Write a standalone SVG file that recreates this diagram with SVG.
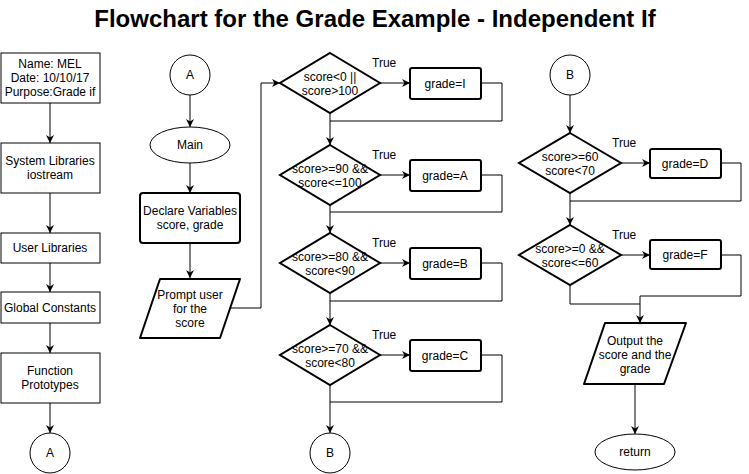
<svg xmlns="http://www.w3.org/2000/svg" width="749" height="474" viewBox="0 0 749 474">
<style>
text{font-family:"Liberation Sans",Arial,sans-serif;font-size:12px;fill:#000;text-anchor:middle}
.title{font-size:24px;font-weight:bold}
.lbl{text-anchor:start}
.n{fill:#fff;stroke:#000;stroke-width:1}
.t{fill:#fff;stroke:#000;stroke-width:2}
.c{fill:none;stroke:#000;stroke-width:1}
</style>
<defs>
<marker id="ah" viewBox="0 0 10 10" refX="10" refY="5" markerWidth="8" markerHeight="8" markerUnits="userSpaceOnUse" orient="auto">
<path d="M0,0 L10,5 L0,10 L3,5 Z" fill="#000"/>
</marker>
</defs>
<rect width="749" height="474" fill="#fff"/>
<text class="title" x="375" y="27">Flowchart for the Grade Example - Independent If</text>

<g id="connectors">
<path class="c" d="M50,103 V143" marker-end="url(#ah)"/>
<path class="c" d="M50,193 V233" marker-end="url(#ah)"/>
<path class="c" d="M50,263 V292" marker-end="url(#ah)"/>
<path class="c" d="M50,323 V353" marker-end="url(#ah)"/>
<path class="c" d="M50,403 V433" marker-end="url(#ah)"/>
<path class="c" d="M190,95 V127" marker-end="url(#ah)"/>
<path class="c" d="M190,163 V193" marker-end="url(#ah)"/>
<path class="c" d="M190,243 V278" marker-end="url(#ah)"/>
<path class="c" d="M230,308 H261 V83 H280" marker-end="url(#ah)"/>
<path class="c" d="M380,83 H410" marker-end="url(#ah)"/>
<path class="c" d="M481,83 H502 V121 H330"/>
<path class="c" d="M330,113 V145" marker-end="url(#ah)"/>
<path class="c" d="M380,175 H410" marker-end="url(#ah)"/>
<path class="c" d="M481,175 H502 V212 H330"/>
<path class="c" d="M330,205 V233" marker-end="url(#ah)"/>
<path class="c" d="M380,263 H410" marker-end="url(#ah)"/>
<path class="c" d="M481,263 H502 V301 H330"/>
<path class="c" d="M330,293 V325" marker-end="url(#ah)"/>
<path class="c" d="M380,355 H410" marker-end="url(#ah)"/>
<path class="c" d="M481,355 H502 V402 H330"/>
<path class="c" d="M330,385 V433" marker-end="url(#ah)"/>
<path class="c" d="M570,95 V133" marker-end="url(#ah)"/>
<path class="c" d="M621,163 H650" marker-end="url(#ah)"/>
<path class="c" d="M721,163 H741 V201 H570"/>
<path class="c" d="M570,193 V225" marker-end="url(#ah)"/>
<path class="c" d="M621,255 H650" marker-end="url(#ah)"/>
<path class="c" d="M721,255 H741 V296 H640 V323" marker-end="url(#ah)"/>
<path class="c" d="M570,285 V304 H640"/>
<path class="c" d="M635,384 V434" marker-end="url(#ah)"/>
</g>

<g id="n-header"><rect class="n" x="1" y="53" width="99" height="50"/>
<text x="50" y="68">Name: MEL</text><text x="50" y="82">Date: 10/10/17</text><text x="50" y="96">Purpose:Grade if</text></g>
<g id="n-syslib"><rect class="n" x="1" y="143" width="99" height="50"/>
<text x="50" y="165">System Libraries</text><text x="50" y="179">iostream</text></g>
<g id="n-userlib"><rect class="n" x="1" y="233" width="99" height="30"/>
<text x="50" y="252">User Libraries</text></g>
<g id="n-globals"><rect class="n" x="1" y="292" width="99" height="31"/>
<text x="50" y="312">Global Constants</text></g>
<g id="n-protos"><rect class="n" x="1" y="353" width="99" height="50"/>
<text x="50" y="375">Function</text><text x="50" y="389">Prototypes</text></g>
<g id="n-a1"><circle class="n" cx="50" cy="453" r="20"/><text x="50" y="457">A</text></g>

<g id="n-a2"><circle class="n" cx="190" cy="75" r="20"/><text x="190" y="79">A</text></g>
<g id="n-main"><ellipse class="n" cx="190" cy="145" rx="40" ry="18"/><text x="190" y="149">Main</text></g>
<g id="n-declare"><rect class="t" x="140" y="193" width="100" height="50" rx="3"/>
<text x="190" y="215">Declare Variables</text><text x="190" y="229">score, grade</text></g>
<g id="n-prompt"><path class="t" stroke-linejoin="round" d="M160,279 H240 L220,338 H140 Z"/>
<text x="190" y="299">Prompt user</text><text x="190" y="313">for the</text><text x="190" y="327">score</text></g>

<g id="n-d1"><path class="t" d="M330,53 L380,83 L330,113 L280,83 Z"/>
<text x="330" y="81">score&lt;0 ||</text><text x="330" y="95">score&gt;100</text>
<text class="lbl" x="372" y="67">True</text></g>
<g id="n-gi"><rect class="t" x="410" y="68" width="71" height="31" rx="2"/><text x="445" y="88">grade=I</text></g>
<g id="n-d2"><path class="t" d="M330,145 L380,175 L330,205 L280,175 Z"/>
<text x="330" y="173">score&gt;=90 &amp;&amp;</text><text x="330" y="187">score&lt;=100</text>
<text class="lbl" x="372" y="159">True</text></g>
<g id="n-ga"><rect class="t" x="410" y="160" width="71" height="31" rx="2"/><text x="445" y="180">grade=A</text></g>
<g id="n-d3"><path class="t" d="M330,233 L380,263 L330,293 L280,263 Z"/>
<text x="330" y="261">score&gt;=80 &amp;&amp;</text><text x="330" y="275">score&lt;90</text>
<text class="lbl" x="372" y="247">True</text></g>
<g id="n-gb"><rect class="t" x="410" y="248" width="71" height="31" rx="2"/><text x="445" y="268">grade=B</text></g>
<g id="n-d4"><path class="t" d="M330,325 L380,355 L330,385 L280,355 Z"/>
<text x="330" y="353">score&gt;=70 &amp;&amp;</text><text x="330" y="367">score&lt;80</text>
<text class="lbl" x="372" y="339">True</text></g>
<g id="n-gc"><rect class="t" x="410" y="340" width="71" height="31" rx="2"/><text x="445" y="360">grade=C</text></g>
<g id="n-b1"><circle class="n" cx="330" cy="453" r="20"/><text x="330" y="457">B</text></g>

<g id="n-b2"><circle class="n" cx="570" cy="75" r="20"/><text x="570" y="79">B</text></g>
<g id="n-d5"><path class="t" d="M570,133 L621,163 L570,193 L519,163 Z"/>
<text x="570" y="161">score&gt;=60</text><text x="570" y="175">score&lt;70</text>
<text class="lbl" x="612" y="147">True</text></g>
<g id="n-gd"><rect class="t" x="650" y="149" width="71" height="29" rx="2"/><text x="685" y="168">grade=D</text></g>
<g id="n-d6"><path class="t" d="M570,225 L621,255 L570,285 L519,255 Z"/>
<text x="570" y="253">score&gt;=0 &amp;&amp;</text><text x="570" y="267">score&lt;=60</text>
<text class="lbl" x="612" y="239">True</text></g>
<g id="n-gf"><rect class="t" x="650" y="240" width="71" height="29" rx="2"/><text x="685" y="259">grade=F</text></g>
<g id="n-output"><path class="t" stroke-linejoin="round" d="M605,323 H686 L664,384 H584 Z"/>
<text x="635" y="345">Output the</text><text x="635" y="359">score and the</text><text x="635" y="373">grade</text></g>
<g id="n-return"><ellipse class="n" cx="635" cy="452" rx="40" ry="18"/><text x="635" y="456">return</text></g>
</svg>
